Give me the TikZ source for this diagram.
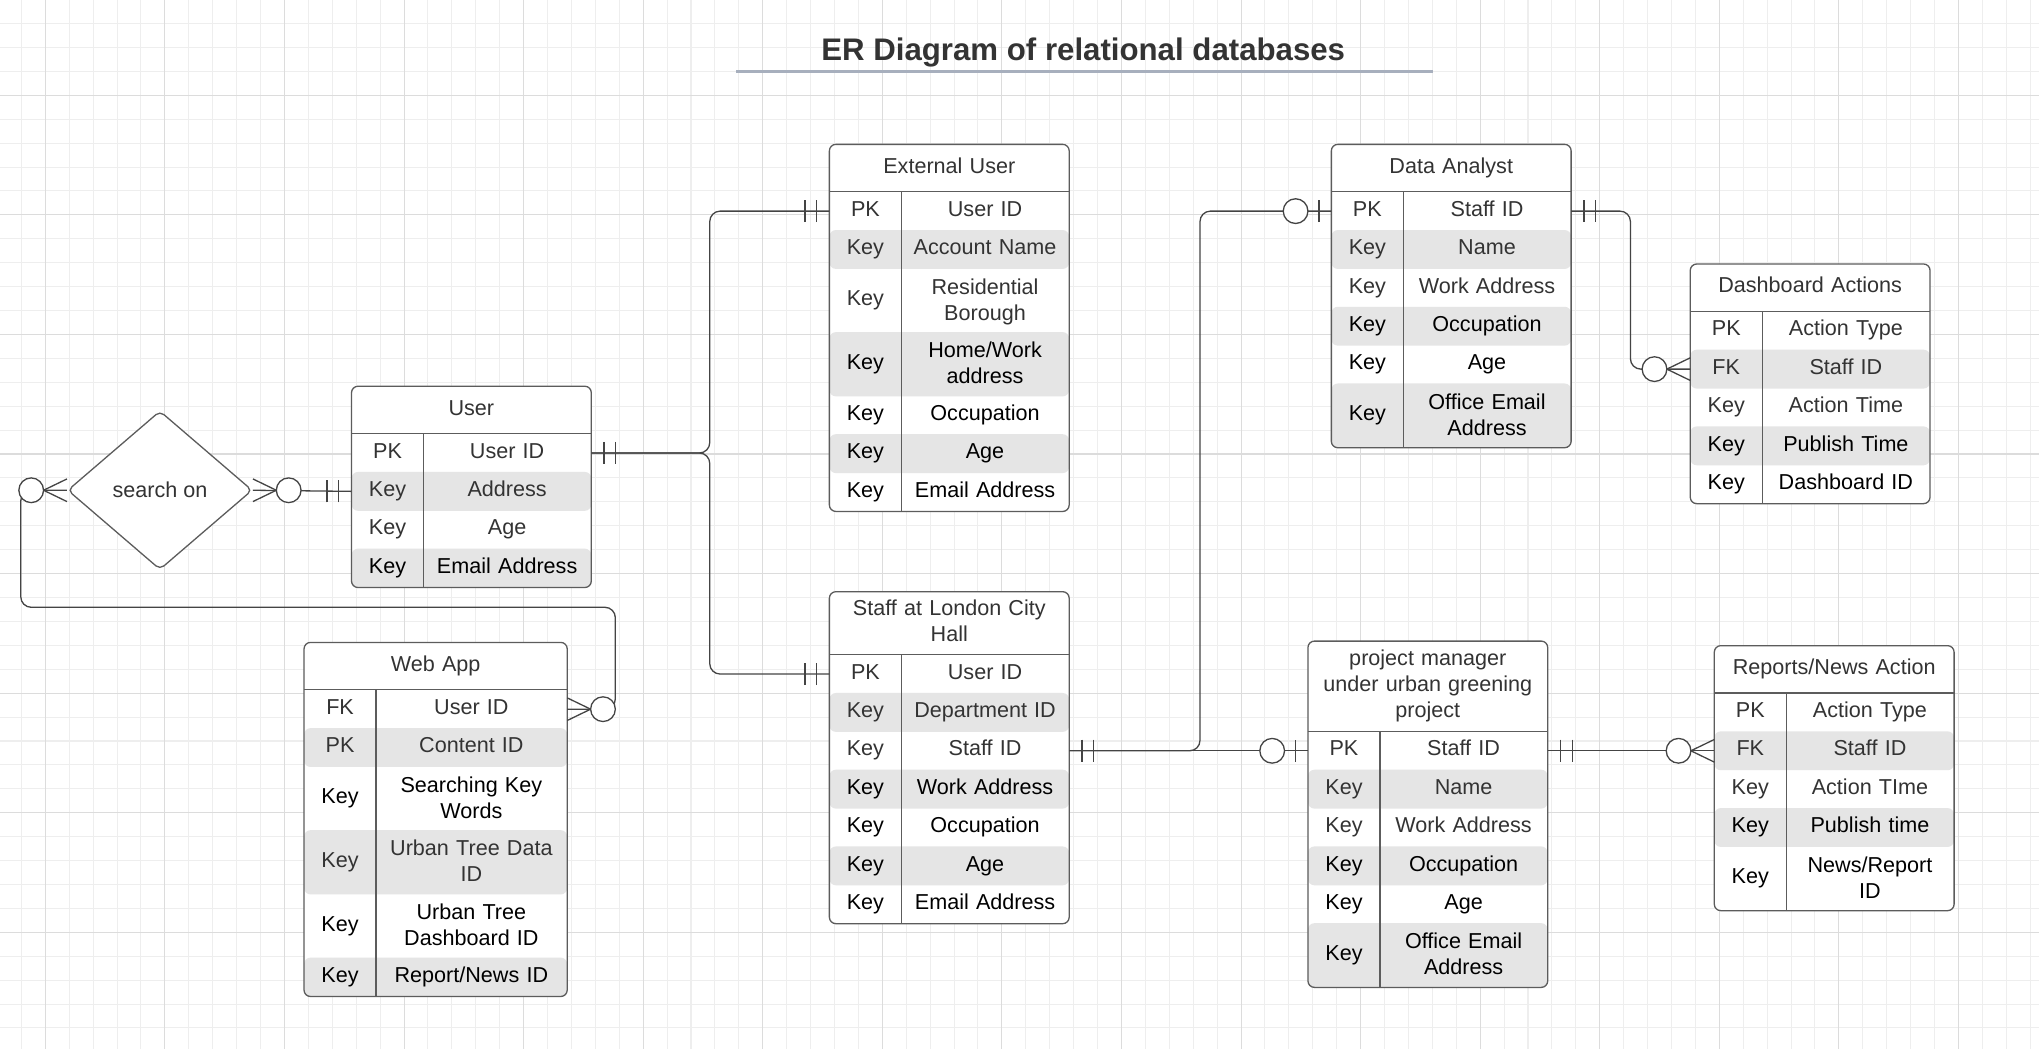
\documentclass[tikz,border=0pt]{standalone}
\usepackage{fontspec}
\setmainfont{Liberation Sans}
\usepackage{tikz}
\usetikzlibrary{matrix,shapes.geometric,positioning}
\pgfdeclarelayer{background}
\pgfsetlayers{background,main}
\definecolor{ertext}{HTML}{333333}
\definecolor{rowgray}{HTML}{E5E5E5}
\definecolor{framegray}{HTML}{5C5C5C}
\definecolor{linegray}{HTML}{444444}
\definecolor{gridminor}{HTML}{EEEEEE}
\definecolor{gridmajor}{HTML}{DCDCDC}
\definecolor{rulegray}{HTML}{A7AFBD}
\newcommand{\erfont}{\fontsize{16.6pt}{20pt}\selectfont}
\newcommand{\ertitlefont}{\fontsize{24pt}{28pt}\selectfont\bfseries}
\tikzset{
   ertitle/.style={font=\erfont, text=ertext, align=center, text width=184pt,
                   text height=12pt, text depth=4pt,
                   inner xsep=0pt, inner ysep=3pt, minimum height=36pt, anchor=north},
   ertable/.style={matrix of nodes, row sep=0pt, column sep=0pt, inner sep=0pt,
                   nodes={font=\erfont, text=ertext, align=center, inner xsep=0pt,
                          inner ysep=2pt, text height=12pt, text depth=4pt,
                          minimum height=29.5pt, anchor=center},
                   column 1/.style={nodes={text width=55pt}},
                   column 2/.style={nodes={text width=129pt}}},
   tallrow/.style={minimum height=49pt},
   twoline/.style={text depth=22pt},
   darkrow/.style={text=black},
   rowfill/.style 2 args={path picture={
       \foreach \r in {#2}
         \fill[rowgray] (#1-\r-1.north west) rectangle (#1-\r-2.south east);}},
   one only/.pic={\draw[markline] (9.8,-8.5) -- (9.8,8.5) (18.8,-8.5) -- (18.8,8.5);},
   zero one/.pic={\draw[markline] (9.5,-8.5) -- (9.5,8.5);
                  \draw[markline, fill=white] (27.5,0) circle[radius=9.5];},
   zero many/.pic={\draw[markline] (0,-8.7) -- (18,0) -- (0,8.7);
                   \draw[markline, fill=white] (27.5,0) circle[radius=9.5];}
}
\tikzstyle{erframe} = [draw=framegray, fill=white, line width=1pt, rounded corners=5pt]
\tikzstyle{erline} = [draw=framegray, line width=1pt]
\tikzstyle{relation} = [diamond, draw=framegray, fill=white, line width=1pt, rounded corners=4pt,
    minimum width=142pt, minimum height=122pt, inner sep=0pt, font=\erfont, text=ertext]
\tikzstyle{conn} = [draw=linegray, line width=1pt, rounded corners=8pt]
\tikzstyle{markline} = [draw=linegray, line width=1pt]
\tikzstyle{titlerule} = [draw=rulegray, line width=2pt]

\begin{document}
\begin{tikzpicture}[x=1pt, y=-1pt]
\useasboundingbox (0,0) rectangle (1568,807);
% grid paper
\begin{pgfonlayer}{background}
  \fill[white] (0,0) rectangle (1568,807);
  \foreach \i in {0,...,84} \draw[gridminor, line width=0.8pt] ({16.45+18.39*\i},0) -- ++(0,807);
  \foreach \i in {0,...,42} \draw[gridminor, line width=0.8pt] (0,{18.11+18.39*\i}) -- ++(1568,0);
  \foreach \i in {0,...,16} \draw[gridmajor, line width=0.8pt] ({34.84+91.95*\i},0) -- ++(0,807);
  \foreach \i in {0,...,7} \draw[gridmajor, line width=0.8pt] (0,{73.28+91.95*\i}) -- ++(1568,0);
\end{pgfonlayer}

\node[font=\ertitlefont, text=ertext] (title) at (833,40) {ER Diagram of relational databases};
\draw[titlerule] (566,55) -- (1102,55);

% User
\node[ertitle] (userT) at (362.5,297) {User};
\matrix[ertable, below=0pt of userT, row 4/.style={nodes=darkrow}] (user) {
  PK  & User ID \\
  Key & Address \\
  Key & Age \\
  Key & Email Address \\
};
\begin{pgfonlayer}{background}
  \draw[erframe, rowfill={user}{2,4}] (userT.north west) rectangle (user.south east);
\end{pgfonlayer}
\draw[erline] (userT.south west) -- (userT.south east) (user-1-1.north east) -- (user-4-1.south east);

% External User
\node[ertitle] (extT) at (730,111) {External User};
\matrix[ertable, below=0pt of extT, row 3/.style={nodes=tallrow}, row 4/.style={nodes={tallrow,darkrow}},
        row 5/.style={nodes=darkrow}, row 6/.style={nodes=darkrow}, row 7/.style={nodes=darkrow}] (ext) {
  PK  & User ID \\
  Key & Account Name \\
  Key & |[twoline]| Residential\par Borough \\
  Key & |[twoline]| Home/Work\par address \\
  Key & Occupation \\
  Key & Age \\
  Key & Email Address \\
};
\begin{pgfonlayer}{background}
  \draw[erframe, rowfill={ext}{2,4,6}] (extT.north west) rectangle (ext.south east);
\end{pgfonlayer}
\draw[erline] (extT.south west) -- (extT.south east) (ext-1-1.north east) -- (ext-7-1.south east);

% Staff at London City Hall
\node[ertitle, minimum height=48pt, text depth=24pt] (staffT) at (730,455) {Staff at London City\\Hall};
\matrix[ertable, below=0pt of staffT, row 4/.style={nodes=darkrow}, row 5/.style={nodes=darkrow},
        row 6/.style={nodes=darkrow}, row 7/.style={nodes=darkrow}] (staff) {
  PK  & User ID \\
  Key & Department ID \\
  Key & Staff ID \\
  Key & Work Address \\
  Key & Occupation \\
  Key & Age \\
  Key & Email Address \\
};
\begin{pgfonlayer}{background}
  \draw[erframe, rowfill={staff}{2,4,6}] (staffT.north west) rectangle (staff.south east);
\end{pgfonlayer}
\draw[erline] (staffT.south west) -- (staffT.south east) (staff-1-1.north east) -- (staff-7-1.south east);

% Data Analyst
\node[ertitle] (daT) at (1116,111) {Data Analyst};
\matrix[ertable, below=0pt of daT, row 4/.style={nodes=darkrow}, row 5/.style={nodes=darkrow},
        row 6/.style={nodes={tallrow,darkrow}}] (da) {
  PK  & Staff ID \\
  Key & Name \\
  Key & Work Address \\
  Key & Occupation \\
  Key & Age \\
  Key & |[twoline]| Office Email\par Address \\
};
\begin{pgfonlayer}{background}
  \draw[erframe, rowfill={da}{2,4,6}] (daT.north west) rectangle (da.south east);
\end{pgfonlayer}
\draw[erline] (daT.south west) -- (daT.south east) (da-1-1.north east) -- (da-6-1.south east);

% Dashboard Actions
\node[ertitle] (dashT) at (1392,203) {Dashboard Actions};
\matrix[ertable, below=0pt of dashT, row 4/.style={nodes=darkrow}, row 5/.style={nodes=darkrow}] (dash) {
  PK  & Action Type \\
  FK  & Staff ID \\
  Key & Action Time \\
  Key & Publish Time \\
  Key & Dashboard ID \\
};
\begin{pgfonlayer}{background}
  \draw[erframe, rowfill={dash}{2,4}] (dashT.north west) rectangle (dash.south east);
\end{pgfonlayer}
\draw[erline] (dashT.south west) -- (dashT.south east) (dash-1-1.north east) -- (dash-5-1.south east);

% Web App
\node[ertitle, text width=202pt] (webT) at (335,494) {Web App};
\matrix[ertable, below=0pt of webT, column 2/.style={nodes={text width=147pt}},
        row 3/.style={nodes={tallrow,darkrow}}, row 4/.style={nodes=tallrow},
        row 5/.style={nodes={tallrow,darkrow}}, row 6/.style={nodes=darkrow}] (web) {
  FK  & User ID \\
  PK  & Content ID \\
  Key & |[twoline]| Searching Key\par Words \\
  Key & |[twoline]| Urban Tree Data\par ID \\
  Key & |[twoline]| Urban Tree\par Dashboard ID \\
  Key & Report/News ID \\
};
\begin{pgfonlayer}{background}
  \draw[erframe, rowfill={web}{2,4,6}] (webT.north west) rectangle (web.south east);
\end{pgfonlayer}
\draw[erline] (webT.south west) -- (webT.south east) (web-1-1.north east) -- (web-6-1.south east);

% project manager
\node[ertitle, minimum height=69pt, text depth=44pt] (pmT) at (1098,493) {project manager\\under urban greening\\project};
\matrix[ertable, below=0pt of pmT, row 4/.style={nodes=darkrow}, row 5/.style={nodes=darkrow},
        row 6/.style={nodes={tallrow,darkrow}}] (pm) {
  PK  & Staff ID \\
  Key & Name \\
  Key & Work Address \\
  Key & Occupation \\
  Key & Age \\
  Key & |[twoline]| Office Email\par Address \\
};
\begin{pgfonlayer}{background}
  \draw[erframe, rowfill={pm}{2,4,6}] (pmT.north west) rectangle (pm.south east);
\end{pgfonlayer}
\draw[erline] (pmT.south west) -- (pmT.south east) (pm-1-1.north east) -- (pm-6-1.south east);

% Reports/News Action
\node[ertitle] (repT) at (1410.5,496.5) {Reports/News Action};
\matrix[ertable, below=0pt of repT, row 4/.style={nodes=darkrow}, row 5/.style={nodes={tallrow,darkrow}}] (rep) {
  PK  & Action Type \\
  FK  & Staff ID \\
  Key & Action TIme \\
  Key & Publish time \\
  Key & |[twoline]| News/Report\par ID \\
};
\begin{pgfonlayer}{background}
  \draw[erframe, rowfill={rep}{2,4}] (repT.north west) rectangle (rep.south east);
\end{pgfonlayer}
\draw[erline] (repT.south west) -- (repT.south east) (rep-1-1.north east) -- (rep-5-1.south east);

% relation
\node[relation] (search) at (123,377) {search on};
\coordinate (searchloop) at (16,467);

% connectors
\draw[conn] (user-1-2.east) -| ([xshift=-92pt]ext-1-1.west) -- (ext-1-1.west);
\draw[conn] (user-1-2.east) -| ([xshift=-92pt]staff-1-1.west) -- (staff-1-1.west);
\draw[conn] (search.east) -- (user-2-1.west);
\draw[conn] (search.west) -| (searchloop) -| ([xshift=37pt]web-1-2.east) -- (web-1-2.east);
\draw[conn] (staff-3-2.east) -- (pm-1-1.west);
\draw[conn] (staff-3-2.east) -| ([xshift=-101pt]da-1-1.west) -- (da-1-1.west);
\draw[conn] (da-1-2.east) -| ([xshift=-46pt]dash-2-1.west) -- (dash-2-1.west);
\draw[conn] (pm-1-2.east) -- (rep-2-1.west);

% cardinality marks
\foreach \a in {user-1-2.east, staff-3-2.east, da-1-2.east, pm-1-2.east}
  \pic at (\a) {one only};
\foreach \a in {ext-1-1.west, staff-1-1.west, user-2-1.west}
  \pic[rotate=180] at (\a) {one only};
\foreach \a in {pm-1-1.west, da-1-1.west}
  \pic[rotate=180] at (\a) {zero one};
\foreach \a in {search.west, dash-2-1.west, rep-2-1.west}
  \pic[rotate=180] at (\a) {zero many};
\foreach \a in {search.east, web-1-2.east}
  \pic at (\a) {zero many};
\end{tikzpicture}
\end{document}
